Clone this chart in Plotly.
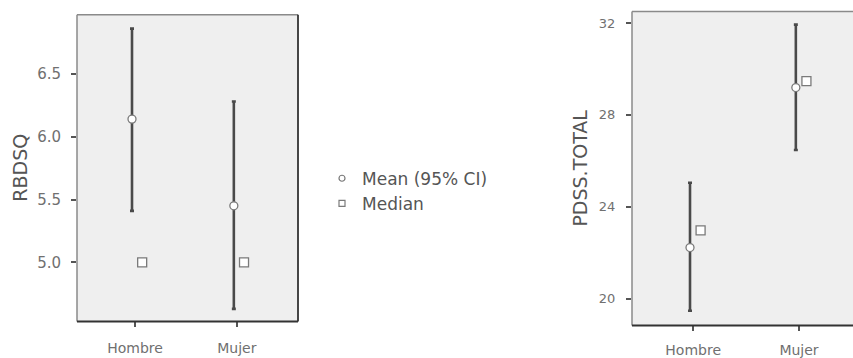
import plotly.graph_objects as go

# Group labels and summary statistics per sex
categories = ["Hombre", "Mujer"]

rbdsq_mean = [6.14, 5.45]
rbdsq_ci_low = [5.41, 4.63]
rbdsq_ci_high = [6.86, 6.28]
rbdsq_median = [5.0, 5.0]

pdss_mean = [22.22, 29.19]
pdss_ci_low = [19.47, 26.47]
pdss_ci_high = [25.04, 31.93]
pdss_median = [22.97, 29.47]

W, H = 853, 358
FONT = "DejaVu Sans"
BAR_COLOR = "#4a4a4a"
MARK_LINE = "#7a7a7a"
TEXT = "#555555"
TICK_TEXT = "#707070"

pos = list(range(len(categories)))
mean_shift = -0.03
median_shift = 0.07


def add_panel(fig, xa, ya, mean, lo, hi, med):
    fig.add_trace(go.Scatter(
        x=[p + mean_shift for p in pos], y=mean, mode="markers",
        showlegend=False, xaxis=xa, yaxis=ya,
        marker=dict(symbol="circle", size=8, color="white",
                    line=dict(color=MARK_LINE, width=1.3)),
        error_y=dict(type="data", symmetric=False,
                     array=[h - m for h, m in zip(hi, mean)],
                     arrayminus=[m - l for m, l in zip(mean, lo)],
                     color=BAR_COLOR, thickness=2.6, width=2),
    ))
    fig.add_trace(go.Scatter(
        x=[p + median_shift for p in pos], y=med, mode="markers",
        showlegend=False, xaxis=xa, yaxis=ya,
        marker=dict(symbol="square", size=9, color="white",
                    line=dict(color=MARK_LINE, width=1.3)),
    ))


fig = go.Figure()
add_panel(fig, "x", "y", rbdsq_mean, rbdsq_ci_low, rbdsq_ci_high, rbdsq_median)
add_panel(fig, "x2", "y2", pdss_mean, pdss_ci_low, pdss_ci_high, pdss_median)

# Legend entries with small key symbols
for name, symbol in [("Mean (95% CI)", "circle"), ("Median", "square")]:
    fig.add_trace(go.Scatter(
        x=[None], y=[None], mode="markers", name=name, showlegend=True,
        marker=dict(symbol=symbol, size=6, color="white",
                    line=dict(color=MARK_LINE, width=1.2)),
    ))

common_x = dict(tickmode="array", tickvals=pos, ticktext=categories,
                showgrid=False, zeroline=False, showline=False,
                ticks="outside", ticklen=5, tickwidth=1.5, tickcolor="#555",
                tickfont=dict(family=FONT, size=14, color=TICK_TEXT),
                fixedrange=True)
common_y = dict(showgrid=False, zeroline=False, showline=False,
                ticks="outside", ticklen=5, tickwidth=1.5, tickcolor="#555",
                fixedrange=True)

left_dom_x = [77 / W, 298 / W]
left_dom_y = [1 - 326 / H, 1 - 15 / H]
right_dom_x = [632 / W, 1.0]
right_dom_y = [1 - 330 / H, 1 - 11.7 / H]

fig.update_layout(
    width=W, height=H,
    margin=dict(l=0, r=0, t=0, b=0),
    paper_bgcolor="white", plot_bgcolor="#efefef",
    xaxis=dict(domain=left_dom_x, range=[-0.57, 1.60], anchor="y",
               ticklabelstandoff=9, **common_x),
    yaxis=dict(domain=left_dom_y, range=[4.53, 6.97], anchor="x",
               tickvals=[5.0, 5.5, 6.0, 6.5], ticktext=["5.0", "5.5", "6.0", "6.5"],
               ticklabelstandoff=7,
               tickfont=dict(family=FONT, size=15, color=TICK_TEXT), **common_y),
    xaxis2=dict(domain=right_dom_x, range=[-0.578, 1.51], anchor="y2",
                ticklabelstandoff=7, **common_x),
    yaxis2=dict(domain=right_dom_y, range=[18.83, 32.5], anchor="x2",
                tickvals=[20, 24, 28, 32], ticklabelstandoff=8,
                tickfont=dict(family=FONT, size=13, color=TICK_TEXT), **common_y),
    legend=dict(x=322 / W, y=1 - 163 / H, xanchor="left", yanchor="top",
                bgcolor="rgba(0,0,0,0)", tracegroupgap=0, itemsizing="trace",
                font=dict(family=FONT, size=17, color=TEXT)),
    showlegend=True,
)

# Panel frames: lighter top/left edges, darker bottom/right edges
frames = [
    ("x domain", "y domain", True),
    ("x2 domain", "y2 domain", False),
]
for xr, yr, right_edge in frames:
    fig.add_shape(type="line", xref=xr, yref=yr, x0=0, x1=1, y0=1, y1=1,
                  line=dict(color="#8a8a8a", width=1.5))
    fig.add_shape(type="line", xref=xr, yref=yr, x0=0, x1=0, y0=0, y1=1,
                  line=dict(color="#8a8a8a", width=1.5))
    fig.add_shape(type="line", xref=xr, yref=yr, x0=0, x1=1, y0=0, y1=0,
                  line=dict(color="#333333", width=2))
    if right_edge:
        fig.add_shape(type="line", xref=xr, yref=yr, x0=1, x1=1, y0=0, y1=1,
                      line=dict(color="#333333", width=1.8))

# Axis titles
fig.add_annotation(text="RBDSQ", x=20 / W, y=1 - 170 / H, xref="paper", yref="paper",
                   xanchor="center", yanchor="middle",
                   textangle=-90, showarrow=False,
                   font=dict(family=FONT, size=19, color=TEXT))
fig.add_annotation(text="PDSS.TOTAL", x=580 / W, y=1 - 171 / H, xref="paper", yref="paper",
                   xanchor="center", yanchor="middle",
                   textangle=-90, showarrow=False,
                   font=dict(family=FONT, size=19, color=TEXT))

fig.write_html("out.html")
